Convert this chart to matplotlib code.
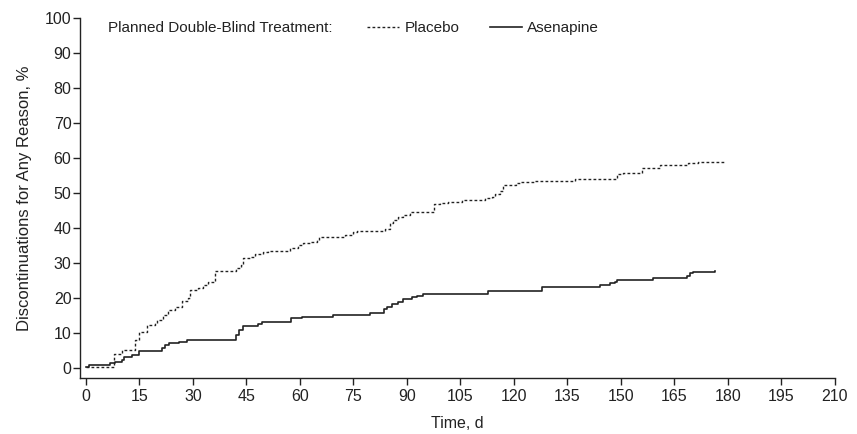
import matplotlib
matplotlib.use('Agg')
import matplotlib.pyplot as plt

plt.rcParams['font.family'] = ['Liberation Sans', 'DejaVu Sans']

# Data: Kaplan-Meier style step curves (day, cumulative % discontinued)
placebo_days = [0, 7.9, 10.0, 13.7, 14.8, 17.0, 19.3, 20.0, 21.7, 23.1, 24.9, 26.8, 28.7,
                29.3, 31.5, 32.9, 34.3, 36.2, 42.2, 43.6, 44.1, 46.0, 47.4, 49.7, 51.1,
                57.2, 59.5, 60.9, 62.8, 64.7, 65.4, 72.6, 74.9, 75.9, 83.8, 85.2, 86.2,
                87.6, 89.0, 90.8, 97.6, 99.2, 101.6, 105.3, 111.9, 113.7, 114.7, 116.1,
                116.8, 120.7, 121.7, 125.9, 137.1, 148.8, 150.6, 156.0, 160.9, 168.9,
                171.7, 179.1]
placebo_pct = [0.3, 4.1, 5.2, 8.0, 10.4, 12.4, 13.0, 13.8, 15.2, 16.7, 17.6, 19.2, 20.0,
               22.4, 22.9, 23.8, 24.7, 27.9, 28.6, 29.5, 31.4, 31.9, 32.7, 33.3, 33.6,
               34.3, 35.2, 35.7, 36.0, 36.7, 37.4, 38.1, 39.0, 39.3, 39.7, 41.4, 42.4,
               43.3, 43.8, 44.7, 46.9, 47.1, 47.6, 48.1, 48.6, 48.9, 49.8, 50.7,
               52.4, 52.9, 53.1, 53.5, 54.0, 55.5, 55.7, 57.1, 58.1, 58.6,
               59.0, 59.0]

asenapine_days = [0, 0.9, 6.7, 8.1, 10.0, 10.7, 12.8, 14.9, 21.4, 22.1, 23.4, 26.1, 28.2,
                  42.0, 43.0, 44.1, 48.3, 49.3, 57.4, 60.5, 69.3, 79.6, 83.5, 84.3, 85.7,
                  87.6, 89.0, 91.3, 92.7, 94.6, 112.8, 127.9, 144.1, 146.9, 148.3, 149.0,
                  159.0, 168.4, 169.3, 170.3, 176.3]
asenapine_pct = [0.3, 0.9, 1.4, 1.8, 2.4, 3.1, 3.8, 5.0, 5.7, 6.6, 7.1, 7.6, 8.1,
                 9.5, 10.9, 12.1, 12.7, 13.1, 14.3, 14.7, 15.2, 15.9, 16.9, 17.6, 18.4,
                 19.0, 19.8, 20.3, 20.7, 21.2, 22.2, 23.3, 23.8, 24.3, 24.7, 25.2,
                 25.9, 26.4, 27.1, 27.4, 27.9]

x_ticks = list(range(0, 211, 15))
y_ticks = list(range(0, 101, 10))

fig = plt.figure(figsize=(8.57, 4.34), dpi=100)
ax = fig.add_axes([0.0939, 0.129, 0.8804, 0.8288])

ln_p, = ax.step(placebo_days, placebo_pct, where='post', color='#222222',
                linestyle=(0, (2, 1.6)), linewidth=1.0, label='Placebo')
ln_a, = ax.step(asenapine_days, asenapine_pct, where='post', color='#222222',
                linewidth=1.2, label='Asenapine')

ax.set_xlim(-1.54, 210)
ax.set_ylim(-2.8, 100)
ax.set_xticks(x_ticks)
ax.set_yticks(y_ticks)
ax.spines['top'].set_visible(False)
ax.spines['right'].set_visible(False)
for s in ['left', 'bottom']:
    ax.spines[s].set_linewidth(1.0)
    ax.spines[s].set_color('#222222')
ax.tick_params(axis='both', labelsize=11.5, color='#222222', width=1.0, length=5,
               labelcolor='#222222')
ax.tick_params(axis='y', pad=1.5)
ax.tick_params(axis='x', pad=3)

ax.set_xlabel('Time, d', fontsize=11.5, color='#222222')
ax.set_ylabel('Discontinuations for Any Reason, %', fontsize=12, color='#222222')
ax.yaxis.set_label_coords(-0.064, 0.5)
ax.xaxis.set_label_coords(0.5, -0.105)

# Legend line
ax.text(0.0364, 0.973, 'Planned Double-Blind Treatment:', transform=ax.transAxes,
        fontsize=11, va='center', ha='left', color='#222222')
leg = ax.legend(handles=[ln_p, ln_a], loc='center left', bbox_to_anchor=(0.3797, 0.973),
                ncol=2, frameon=False, fontsize=11, handlelength=2.1, handletextpad=0.35,
                columnspacing=2.0, borderpad=0, borderaxespad=0)
for t in leg.get_texts():
    t.set_color('#222222')

fig.savefig('out.png', dpi=100)
